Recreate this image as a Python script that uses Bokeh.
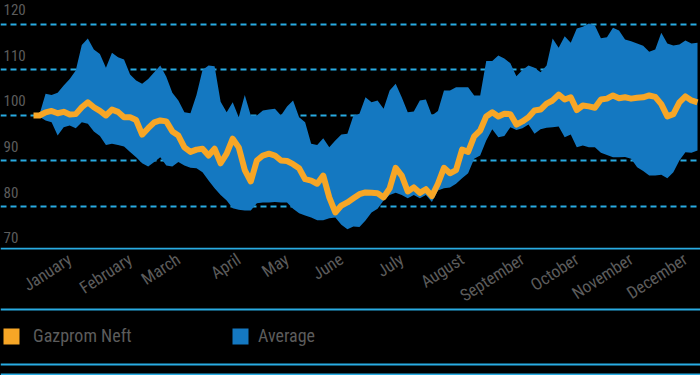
import math
from bokeh.plotting import figure
from bokeh.models import Range1d, FixedTicker, Legend, LegendItem, Span, LabelSet, ColumnDataSource
from bokeh.layouts import column
from bokeh.embed import file_html
from bokeh.resources import INLINE
from bokeh.core.properties import value

# ---------------- data ----------------
months = ["January", "February", "March", "April", "May", "June",
          "July", "August", "September", "October", "November", "December"]
month_ticks = [6, 16, 24, 34, 42, 51, 61, 71, 81, 90, 99, 108]   # trading-day index of month labels
y_tick_labels = [70, 80, 90, 100, 110, 120]
grid_values = [80, 90, 100, 110, 120]

gazprom = [100.0, 100.0, 100.7, 101.0, 100.5, 100.8, 100.2, 100.3, 101.8, 102.9,
           101.8, 101.0, 100.0, 101.3, 100.8, 99.6, 99.6, 99.0, 95.8, 97.2,
           98.5, 98.9, 98.7, 96.5, 95.6, 93.0, 92.0, 92.5, 92.7, 91.2,
           92.7, 89.5, 91.6, 94.9, 93.0, 88.0, 85.5, 90.1, 91.2, 91.6,
           91.2, 90.1, 90.0, 89.3, 88.4, 86.0, 85.7, 85.0, 86.8, 82.0,
           78.7, 80.2, 80.9, 81.8, 82.7, 83.1, 83.0, 82.9, 82.0, 84.0,
           88.5, 86.8, 83.3, 84.2, 83.0, 83.8, 82.3, 85.0, 88.5, 87.3,
           88.0, 92.5, 92.0, 95.4, 96.7, 99.8, 100.7, 99.8, 100.4, 100.3,
           98.0, 98.7, 99.6, 101.1, 101.3, 102.6, 103.3, 104.6, 103.5, 104.0,
           101.2, 102.2, 102.0, 101.7, 103.5, 103.7, 104.4, 103.8, 104.0, 103.7,
           103.9, 104.0, 104.4, 104.1, 102.5, 99.8, 100.3, 102.9, 104.2, 103.3,
           102.9]

avg_high = [100.0, 100.3, 104.8, 104.5, 105.0, 106.6, 108.0, 109.9, 115.5, 116.9,
            114.5, 113.5, 110.5, 113.8, 112.8, 112.3, 109.0, 107.7, 107.0, 108.0,
            109.5, 111.0, 108.5, 105.0, 103.3, 100.7, 100.5, 104.5, 110.0, 111.0,
            110.8, 103.0, 100.7, 102.9, 99.6, 104.5, 100.0, 100.0, 101.1, 101.3,
            101.5, 100.0, 102.0, 103.3, 99.6, 98.5, 93.8, 93.5, 95.0, 93.0,
            94.5, 95.8, 96.0, 100.0, 100.4, 104.0, 102.9, 103.3, 101.5, 105.5,
            107.0, 104.0, 100.7, 100.9, 103.3, 103.5, 100.0, 101.0, 105.5, 105.5,
            106.2, 106.2, 106.2, 104.4, 104.4, 112.0, 112.0, 113.2, 112.5, 111.5,
            108.6, 110.0, 111.0, 110.5, 109.5, 111.0, 116.9, 114.9, 117.4, 116.0,
            119.1, 119.5, 120.2, 119.8, 117.0, 117.2, 119.3, 118.7, 116.7, 116.3,
            115.8, 115.3, 114.0, 114.5, 118.2, 115.8, 115.4, 115.6, 116.5, 115.8,
            116.0]

avg_low = [100.0, 99.7, 98.9, 98.5, 95.6, 97.4, 97.8, 97.2, 98.5, 98.2,
           96.5, 95.5, 93.5, 93.8, 93.5, 93.2, 92.0, 90.8, 89.5, 88.8,
           89.8, 90.8, 89.0, 88.8, 89.8, 89.0, 88.5, 88.4, 87.5, 85.7,
           84.0, 82.5, 81.3, 79.6, 79.3, 79.1, 79.1, 80.7, 80.9, 80.9,
           81.0, 80.9, 80.9, 79.5, 78.5, 78.0, 77.6, 77.0, 77.0, 77.4,
           77.6, 76.0, 75.0, 75.6, 75.5, 76.9, 78.7, 79.5, 81.3, 82.5,
           83.0, 82.5, 81.8, 82.5, 81.8, 82.5, 81.0, 83.5, 84.0, 84.2,
           85.0, 86.2, 87.3, 90.5, 91.2, 94.5, 97.0, 95.2, 95.5, 97.4,
           96.8, 97.2, 98.0, 96.0, 97.0, 97.3, 97.4, 97.6, 95.2, 95.8,
           93.0, 93.4, 93.0, 93.0, 91.8, 91.3, 90.8, 90.8, 90.9, 90.5,
           88.6, 87.8, 86.8, 86.8, 87.0, 86.2, 87.5, 90.1, 91.9, 91.8,
           92.3]

days = list(range(len(gazprom)))

# ---------------- style ----------------
BG = "#000000"
BLUE = "#1478c1"
ORANGE = "#f7a626"
RULE = "#29abe2"
TEXT = "#5c5c5c"
FONT = "Roboto Condensed, Liberation Sans Narrow, DejaVu Sans Condensed, sans-serif"

n = len(days)
px_per_day = 664 / (n - 1)
x_range = Range1d(-33 / px_per_day, (n - 1) + 3 / px_per_day)

# ---------------- main chart ----------------
p = figure(width=700, height=247, x_range=x_range, y_range=Range1d(70.99, 125.27),
           output_backend="svg", toolbar_location=None,
           min_border_left=0, min_border_right=0, min_border_top=0, min_border_bottom=0,
           background_fill_color=BG, border_fill_color=BG, outline_line_color=None)
p.axis.visible = False
p.xgrid.grid_line_color = None
p.ygrid.ticker = FixedTicker(ticks=grid_values)
p.ygrid.grid_line_color = RULE
p.ygrid.grid_line_width = 2
p.ygrid.grid_line_dash = "6 4"

p.varea(x=days, y1=avg_low, y2=avg_high, fill_color=BLUE, fill_alpha=1.0)
p.line(x=days, y=gazprom, line_color=ORANGE, line_width=6, line_join="round")

ylab_src = ColumnDataSource(dict(y=y_tick_labels, x=[3] * len(y_tick_labels),
                                 text=[str(v) for v in y_tick_labels]))
p.add_layout(LabelSet(x="x", y="y", text="text", source=ylab_src, x_units="screen",
                      text_font=value(FONT), text_font_size="15px", text_color=TEXT,
                      text_align="left", text_baseline="alphabetic", y_offset=9))

# ---------------- month labels + legend panel ----------------
q = figure(width=700, height=128, x_range=x_range, y_range=Range1d(0, 128),
           output_backend="svg", toolbar_location=None,
           min_border_left=0, min_border_right=0, min_border_top=0, min_border_bottom=0,
           background_fill_color=BG, border_fill_color=BG, outline_line_color=None)
q.axis.visible = False
q.grid.grid_line_color = None
for loc in (127, 66, 11, 1):
    q.add_layout(Span(location=loc, dimension="width", line_color=RULE, line_width=2))

q.text(x=month_ticks, y=[128] * len(months), text=months, angle=math.radians(33),
       text_font=value(FONT), text_font_size="17px", text_color=TEXT,
       text_align="right", text_baseline="middle", x_offset=0, y_offset=10)

r_g = q.varea(x=[-50], y1=[0], y2=[0], fill_color=ORANGE)
r_a = q.varea(x=[-50], y1=[0], y2=[0], fill_color=BLUE)

def make_legend(label, rend, loc, standoff):
    return Legend(items=[LegendItem(label=label, renderers=[rend])], location=loc,
                  glyph_width=20, glyph_height=20, label_height=20, label_standoff=standoff,
                  label_text_font=FONT, label_text_font_size="18px", label_text_color=TEXT,
                  label_text_baseline="middle",
                  background_fill_alpha=0, border_line_color=None, padding=0, margin=0, spacing=0)

q.add_layout(make_legend("Gazprom Neft", r_g, (1, 29), 12))
q.add_layout(make_legend("Average", r_a, (230, 29), 8))

layout = column(p, q, spacing=0, styles={"background-color": BG})
open("out.html", "w").write(file_html(layout, INLINE))
